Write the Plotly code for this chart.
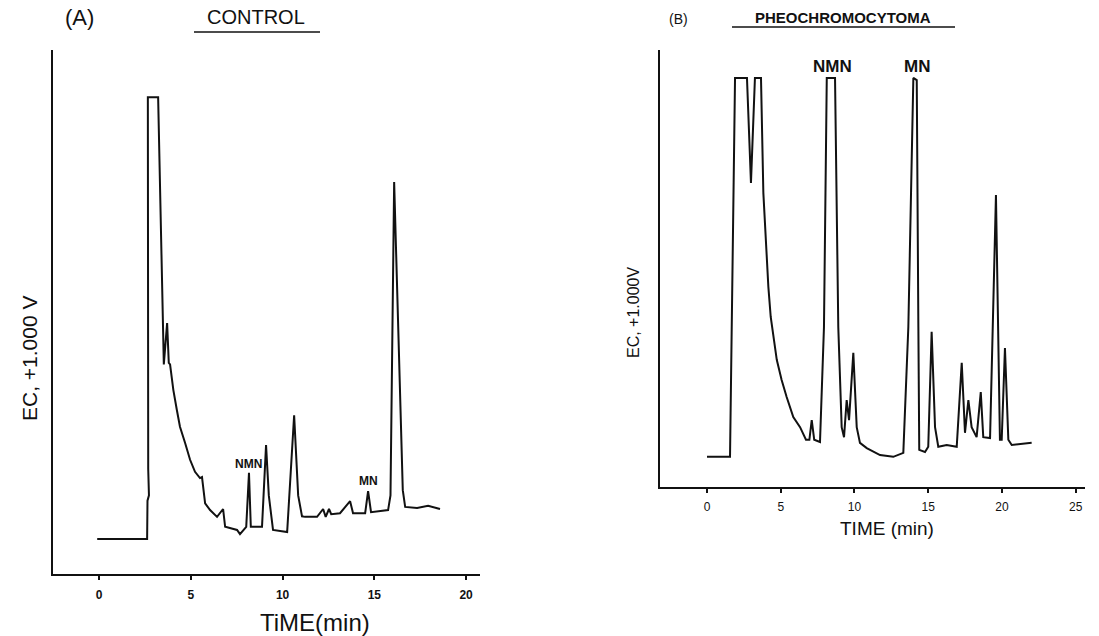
import plotly.graph_objects as go

# Chromatogram A: control plasma (retention time in min, detector response in arbitrary units)
control_time = [-0.1, 2.62, 2.64, 2.72, 2.68, 2.66, 3.22, 3.49, 3.53, 3.71, 3.80, 3.87,
                4.05, 4.24, 4.41, 4.69, 4.96, 5.23, 5.50, 5.61, 5.78, 6.05, 6.43, 6.76,
                6.87, 7.52, 7.68, 8.02, 8.17, 8.27, 8.34, 8.88, 9.10, 9.25, 9.48, 10.25,
                10.63, 10.85, 11.06, 11.23, 11.88, 12.05, 12.21, 12.35, 12.53, 12.65, 13.13,
                13.68, 13.84, 14.50, 14.66, 14.82, 15.75, 15.88, 16.08, 16.55, 16.68, 17.33,
                17.93, 18.58]
control_signal = [6.7, 6.7, 14.0, 15.0, 20.0, 91.0, 91.0, 40.8, 40.0, 47.9, 40.3, 40.0,
                  35.1, 31.3, 28.1, 25.0, 21.8, 19.5, 18.3, 18.5, 13.5, 12.2, 10.9, 12.4,
                  9.0, 8.4, 7.6, 9.0, 19.3, 9.0, 9.0, 9.0, 24.6, 15.0, 8.4, 8.0,
                  30.3, 15.0, 11.0, 10.9, 10.9, 11.6, 12.4, 10.9, 12.4, 11.4, 11.6,
                  13.9, 11.6, 11.6, 15.8, 11.8, 12.2, 15.0, 74.8, 16.0, 12.8, 12.6,
                  13.0, 12.4]

# Chromatogram B: pheochromocytoma plasma
pheo_time = [0.0, 1.56, 1.90, 2.71, 2.98, 3.25, 3.66, 3.82, 4.16, 4.32, 4.73, 5.06,
             5.40, 5.85, 6.31, 6.71, 6.94, 7.10, 7.27, 7.66, 7.93, 8.12, 8.68, 8.90,
             9.13, 9.29, 9.47, 9.63, 9.92, 10.15, 10.37, 10.83, 11.73, 12.63, 13.31,
             13.65, 13.99, 14.22, 14.33, 14.39, 14.78, 15.00, 15.23, 15.46, 15.68,
             16.25, 16.93, 17.27, 17.49, 17.72, 17.94, 18.28, 18.56, 18.73, 19.19,
             19.59, 19.86, 19.98, 20.20, 20.43, 20.66, 22.01]
pheo_signal = [6.9, 6.9, 93.6, 93.6, 69.6, 93.6, 93.6, 67.3, 45.8, 38.9, 29.1, 24.5,
               20.6, 16.0, 13.7, 10.8, 10.8, 15.3, 10.8, 10.3, 36.6, 93.6, 93.6, 36.6,
               13.7, 11.4, 19.9, 15.3, 30.7, 13.7, 10.1, 8.9, 7.3, 6.9, 7.8,
               36.6, 93.6, 93.1, 36.6, 8.5, 8.0, 9.2, 35.5, 13.7, 9.2,
               9.6, 9.2, 28.4, 12.4, 19.9, 13.7, 11.4, 21.7, 11.4, 11.2,
               66.8, 10.8, 10.8, 31.8, 10.8, 9.6, 10.1]

ticks_a = [0, 5, 10, 15, 20]
ticks_b = [0, 5, 10, 15, 20, 25]

FONT = "Liberation Sans"
INK = "#111111"

fig = go.Figure()
fig.add_trace(go.Scatter(x=control_time, y=control_signal, mode="lines",
                         line=dict(color=INK, width=2), xaxis="x", yaxis="y",
                         showlegend=False, hoverinfo="skip"))
fig.add_trace(go.Scatter(x=pheo_time, y=pheo_signal, mode="lines",
                         line=dict(color=INK, width=2), xaxis="x2", yaxis="y2",
                         showlegend=False, hoverinfo="skip"))

axis_common = dict(showgrid=False, zeroline=False, showline=True, linecolor=INK,
                   linewidth=2, ticks="outside", tickcolor=INK, tickwidth=1.5,
                   ticklen=4)

fig.update_layout(
    width=1099, height=636,
    margin=dict(l=0, r=0, t=0, b=0),
    paper_bgcolor="white", plot_bgcolor="white",
    xaxis=dict(axis_common, domain=[0.0482, 0.4368], range=[-2.51, 20.76],
               tickvals=ticks_a, anchor="y", ticklabelstandoff=5,
               tickfont=dict(family=FONT, size=12, color=INK, weight="bold")),
    yaxis=dict(axis_common, domain=[0.0975, 0.9214], range=[0, 100],
               showticklabels=False, ticks="", anchor="x"),
    xaxis2=dict(axis_common, domain=[0.6005, 0.9873], range=[-3.19, 25.63],
                tickvals=ticks_b, anchor="y2", ticklabelstandoff=4,
                tickfont=dict(family=FONT, size=12, color=INK)),
    yaxis2=dict(axis_common, domain=[0.2343, 0.9214], range=[0, 100],
                showticklabels=False, ticks="", anchor="x2"),
)

def paper_text(text, x, y, size, angle=0, bold=False):
    fig.add_annotation(text=f"<b>{text}</b>" if bold else text,
                       x=x / 1099, y=1 - y / 636, xref="paper", yref="paper",
                       showarrow=False, textangle=angle,
                       font=dict(family=FONT, size=size, color=INK),
                       xanchor="center", yanchor="middle")

# Panel headings
paper_text("(A)", 79, 17, 22)
paper_text("CONTROL", 256, 17, 20)
paper_text("(B)", 678, 19, 14)
paper_text("PHEOCHROMOCYTOMA", 843, 17, 15, bold=True)

# Heading underlines
fig.add_shape(type="line", xref="paper", yref="paper",
              x0=194 / 1099, x1=320 / 1099, y0=1 - 32 / 636, y1=1 - 32 / 636,
              line=dict(color=INK, width=1.6))
fig.add_shape(type="line", xref="paper", yref="paper",
              x0=732 / 1099, x1=955 / 1099, y0=1 - 27 / 636, y1=1 - 27 / 636,
              line=dict(color=INK, width=1.6))

# Axis titles
paper_text("EC, +1.000 V", 29, 358, 21, angle=-90)
paper_text("TiME(min)", 315, 622, 24)
paper_text("EC, +1.000V", 633, 312, 16, angle=-90)
paper_text("TIME (min)", 887, 528, 19)

# Peak labels
fig.add_annotation(text="<b>NMN</b>", x=8.17, y=21.0, xref="x", yref="y",
                   showarrow=False, font=dict(family=FONT, size=12, color=INK))
fig.add_annotation(text="<b>MN</b>", x=14.66, y=17.7, xref="x", yref="y",
                   showarrow=False, font=dict(family=FONT, size=12, color=INK))
fig.add_annotation(text="<b>NMN</b>", x=8.54, y=96.2, xref="x2", yref="y2",
                   showarrow=False, font=dict(family=FONT, size=17, color=INK))
fig.add_annotation(text="<b>MN</b>", x=14.24, y=96.2, xref="x2", yref="y2",
                   showarrow=False, font=dict(family=FONT, size=17, color=INK))

fig.write_html("out.html")
